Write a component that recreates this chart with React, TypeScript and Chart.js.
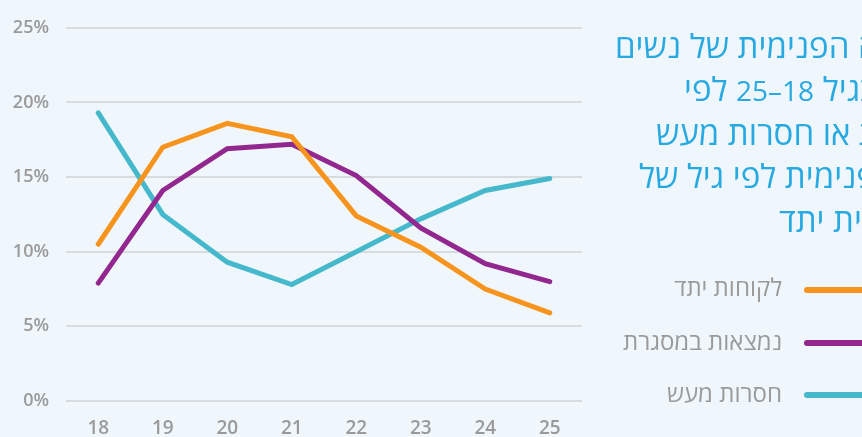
import React, { useEffect, useRef } from "react";
import { Chart, registerables } from "chart.js";

Chart.register(...registerables);

const ages = ["18", "19", "20", "21", "22", "23", "24", "25"];
const yatedClients = [10.5, 17.0, 18.6, 17.7, 12.4, 10.3, 7.5, 5.9];
const inFramework = [7.9, 14.1, 16.9, 17.2, 15.1, 11.6, 9.2, 8.0];
const neet = [19.3, 12.5, 9.3, 7.8, 10.0, 12.2, 14.1, 14.9];

const seriesNames = ["לקוחות יתד", "נמצאות במסגרת", "חסרות מעש"];
const seriesColors = ["#F7941D", "#92278F", "#45B8CC"];
const seriesValues = [yatedClients, inFramework, neet];

// each title line as [text before number, number, text after number]
const titleLines: [string, string, string][] = [
  ["שיעור ההגירה הפנימית של נשים", "", ""],
  ["בגיל ", "18–25", " לפי"],
  ["נמצאות במסגרת או חסרות מעש", "", ""],
  ["ושיעור ההגירה הפנימית לפי גיל של", "", ""],
  ["לקוחות תוכנית יתד", "", ""],
];
const titleLeft = [615, 684, 656, 639, 779];
const titleTop = [23.5, 67, 110.5, 154, 197.5];
const legendTop = [272, 326, 377.5];
const legendLineCenter = [289.5, 343, 395];

const BG = "#EFF7FC";
const GRAY = "#9A9A9A";
const FONT = "'Open Sans', 'DejaVu Sans', sans-serif";

export default function App() {
  const ref = useRef<HTMLCanvasElement | null>(null);

  useEffect(() => {
    if (!ref.current) return;
    const chart = new Chart(ref.current, {
      type: "line",
      data: {
        labels: ages,
        datasets: seriesValues.map((vals, i) => ({
          label: seriesNames[i],
          data: vals,
          borderColor: seriesColors[i],
          backgroundColor: seriesColors[i],
          borderWidth: 5,
          pointRadius: 0,
          pointHoverRadius: 0,
          tension: 0,
          borderCapStyle: "round" as const,
          borderJoinStyle: "miter" as const,
          fill: false,
        })),
      },
      options: {
        responsive: false,
        animation: false,
        events: [],
        layout: { padding: { left: 0, right: 280, top: 22, bottom: 0 } },
        plugins: { legend: { display: false }, tooltip: { enabled: false }, title: { display: false } },
        scales: {
          x: {
            offset: true,
            border: { display: false },
            grid: { display: false, drawTicks: false },
            ticks: {
              color: GRAY,
              padding: 16,
              font: { family: FONT, size: 19, weight: 600 },
              maxRotation: 0,
            },
            afterFit: (s: any) => {
              s.height = 36;
            },
          },
          y: {
            min: 0,
            max: 25,
            border: { display: false },
            grid: { color: "#D9DCDE", lineWidth: 2, drawTicks: false },
            ticks: {
              stepSize: 5,
              color: GRAY,
              padding: 17,
              font: { family: FONT, size: 18, weight: 600 },
              callback: (v: any) => v + "%",
            },
            afterFit: (s: any) => {
              s.width = 66;
            },
          },
        },
      },
    });
    return () => chart.destroy();
  }, []);

  return (
    <div
      style={{
        position: "fixed",
        left: 0,
        top: 0,
        width: 862,
        height: 437,
        overflow: "hidden",
        background: BG,
        fontFamily: FONT,
      }}
    >
      <canvas ref={ref} width={862} height={437} style={{ position: "absolute", left: 0, top: 0, width: 862, height: 437 }} />
      {titleLines.map((t, i) => (
        <div
          key={"t" + i}
          dir="rtl"
          style={{
            position: "absolute",
            left: titleLeft[i],
            top: titleTop[i],
            whiteSpace: "nowrap",
            fontSize: 33,
            lineHeight: "44px",
            color: "#29A9E1",
          }}
        >
          {t[0]}
          {t[1] ? <span style={{ fontSize: 28 }}>{t[1]}</span> : null}
          {t[2]}
        </div>
      ))}
      {seriesNames.map((n, i) => (
        <React.Fragment key={"l" + i}>
          <div
            dir="rtl"
            style={{
              position: "absolute",
              right: 80,
              top: legendTop[i],
              whiteSpace: "nowrap",
              fontSize: 24,
              lineHeight: "30px",
              color: GRAY,
            }}
          >
            {n}
          </div>
          <div
            style={{
              position: "absolute",
              left: 804,
              top: legendLineCenter[i] - 3,
              width: 80,
              height: 6,
              borderRadius: 3,
              background: seriesColors[i],
            }}
          />
        </React.Fragment>
      ))}
    </div>
  );
}
